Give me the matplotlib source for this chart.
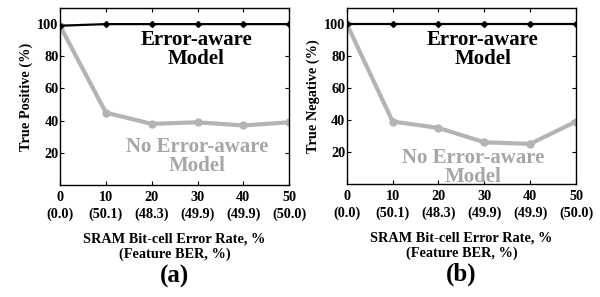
import matplotlib
matplotlib.use("Agg")
import matplotlib.pyplot as plt

plt.rcParams['font.family'] = ['Liberation Serif', 'DejaVu Serif']
plt.rcParams['font.weight'] = 'bold'

x = [0, 10, 20, 30, 40, 50]
xticklabels = ["0\n(0.0)", "10\n(50.1)", "20\n(48.3)", "30\n(49.9)", "40\n(49.9)", "50\n(50.0)"]
tp_aware = [99, 100, 100, 100, 100, 100]
tp_noaware = [99, 45, 38, 39, 37, 39]
tn_aware = [100, 100, 100, 100, 100, 100]
tn_noaware = [100, 39, 35, 26, 25, 39]
ylabels = ["True Positive (%)", "True Negative (%)"]
panel_labels = ["(a)", "(b)"]
xlabel = "SRAM Bit-cell Error Rate, %\n(Feature BER, %)"

fig = plt.figure(figsize=(6, 2.97), dpi=100)
axes = [fig.add_axes([0.1, 0.377, 0.382, 0.596]),
        fig.add_axes([0.578, 0.381, 0.382, 0.592])]

gray_line = '#b4b4b4'
gray_text = '#a6a6a6'
data = [(tp_aware, tp_noaware), (tn_aware, tn_noaware)]
gray_pos = [(30, 17.5), (27.5, 10)]

for i, ax in enumerate(axes):
    aw, nw = data[i]
    ax.plot(x, nw, color=gray_line, lw=3.0, marker='o', ms=5, mfc=gray_line, mec=gray_line, zorder=2)
    ax.plot(x, aw, color='black', lw=1.6, marker='D', ms=3, zorder=3)
    ax.set_xlim(0, 50)
    ax.set_ylim(0, 110)
    ax.set_yticks([20, 40, 60, 80, 100])
    ax.set_xticks(x)
    ax.set_xticklabels(xticklabels, fontsize=10.3, fontweight='bold', linespacing=1.35)
    ax.tick_params(axis='both', direction='in', top=True, right=True, length=3, width=0.8, labelsize=10.3, pad=4.5)
    for lab in ax.get_yticklabels():
        lab.set_fontweight('bold')
    ax.tick_params(axis='y', pad=1)
    for s in ax.spines.values():
        s.set_linewidth(1.0)
    ax.set_ylabel(ylabels[i], fontsize=10.3, fontweight='bold', labelpad=3)
    ax.set_xlabel(xlabel, fontsize=10.3, fontweight='bold', labelpad=8, linespacing=1.2)
    ax.text(29.7, 84, "Error-aware\nModel", ha='center', va='center', fontsize=15,
            fontweight='bold', color='black', linespacing=0.95)
    gx, gy = gray_pos[i]
    ax.text(gx, gy, "No Error-aware\nModel", ha='center', va='center', fontsize=15,
            fontweight='bold', color=gray_text, linespacing=0.95)
    ax.text(0.5, -0.515, panel_labels[i], transform=ax.transAxes, ha='center', va='center',
            fontsize=18, fontweight='bold')

fig.savefig("out.png", dpi=100)
